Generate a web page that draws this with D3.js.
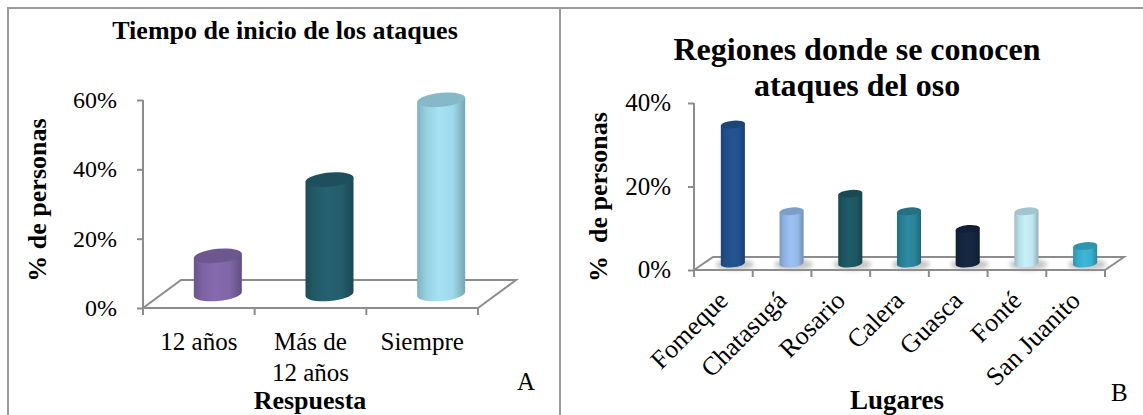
<!DOCTYPE html>
<html>
<head>
<meta charset="utf-8">
<script src="https://cdn.jsdelivr.net/npm/d3@7"></script>
<style>
  body { margin: 0; background: #fff; }
  svg { display: block; }
  text { font-family: "Liberation Serif", "Times New Roman", serif; fill: #000; }
</style>
</head>
<body>
<svg id="chart" width="1143" height="415"></svg>
<script>
// Panel A: when the attacks started
const startCategories = ["12 años", "Más de 12 años", "Siempre"];
const startLabelLines = [["12 años"], ["Más de", "12 años"], ["Siempre"]];
const startValues = [0.11, 0.33, 0.56];
const startColors = ["#8066a8", "#235d6c", "#9dd9ea"];
const startTicks = [0, 0.2, 0.4, 0.6];

// Panel B: places where bear attacks are known
const placeCategories = ["Fomeque", "Chatasugá", "Rosario", "Calera", "Guasca", "Fonté", "San Juanito"];
const placeValues = [0.333, 0.125, 0.167, 0.125, 0.083, 0.125, 0.042];
const placeColors = ["#22518d", "#95b9e9", "#1d5763", "#2b8499", "#14263f", "#bfe6ef", "#3aafcf"];
const placeTicks = [0, 0.2, 0.4];

const svg = d3.select("#chart");
const defs = svg.append("defs");

defs.append("filter").attr("id", "soft").attr("x", "-50%").attr("y", "-50%").attr("width", "200%").attr("height", "200%")
  .append("feGaussianBlur").attr("stdDeviation", 2.2);

function label(parent, x, y, str, opts = {}) {
  const t = parent.append("text")
    .attr("transform", `translate(${x},${y})` + (opts.rotate ? ` rotate(${opts.rotate})` : ""))
    .attr("font-size", opts.size || 24)
    .attr("font-weight", opts.bold ? "bold" : "normal")
    .attr("text-anchor", opts.anchor || "middle")
    .text(str);
  if (opts.space) t.attr("xml:space", "preserve").style("white-space", "pre");
  return t;
}

function cylinder(g, id, cx, yBase, yTop, rx, ry, color, skew) {
  const c = d3.color(color);
  const grad = defs.append("linearGradient").attr("id", id)
    .attr("x1", 0).attr("x2", 1).attr("y1", 0).attr("y2", 0);
  [[0, c.darker(0.55)], [0.18, c.darker(0.12)], [0.45, c.brighter(0.12)], [0.75, c], [1, c.darker(0.75)]]
    .forEach(([o, col]) => grad.append("stop").attr("offset", o).attr("stop-color", col.formatHex()));
  const h = yBase - yTop;
  const cg = g.append("g").attr("transform", `translate(${cx},${yBase}) skewY(${-skew})`);
  cg.append("path")
    .attr("d", `M${-rx},${-h} L${-rx},0 A${rx},${ry} 0 0 0 ${rx},0 L${rx},${-h} Z`)
    .attr("fill", `url(#${id})`);
  cg.append("ellipse")
    .attr("cx", 0).attr("cy", -h).attr("rx", rx).attr("ry", ry)
    .attr("fill", c.darker(0.45).formatHex());
}

function panel(cfg) {
  const g = svg.append("g");
  const y = d3.scaleLinear().domain([0, cfg.max]).range([cfg.yZero, cfg.yTop]);
  const x = d3.scaleBand().domain(cfg.categories).range([cfg.xLeft, cfg.xRight]);
  const bw = x.bandwidth();
  const axisColor = "#8c8c8c";

  // floor of the 3-D plot area
  const floor = g.append("g").attr("fill", "none").attr("stroke", axisColor).attr("stroke-width", 2);
  floor.append("path").attr("d",
    `M${cfg.xLeft},${cfg.yZero} L${cfg.xLeft + cfg.dx},${cfg.yZero - cfg.dy} L${cfg.xRight + cfg.dx},${cfg.yZero - cfg.dy} L${cfg.xRight},${cfg.yZero}`);

  // value axis
  const ya = g.append("g").attr("transform", `translate(${cfg.xLeft},0)`)
    .call(d3.axisLeft(y).tickValues(cfg.ticks).tickSize(6).tickFormat(""));
  ya.selectAll("path, line").attr("stroke", axisColor).attr("stroke-width", 2);
  ya.select(".domain").attr("d", `M0,${cfg.yTop}V${cfg.yZero}`);

  // category axis (front edge of floor)
  const xa = g.append("g").attr("transform", `translate(0,${cfg.yZero})`)
    .call(d3.axisBottom(x).tickSize(0).tickFormat(""));
  xa.select(".domain").attr("stroke", axisColor).attr("stroke-width", 2)
    .attr("d", `M${cfg.xLeft},0H${cfg.xRight}`);
  g.append("g").selectAll("line").data(d3.range(cfg.categories.length + 1)).join("line")
    .attr("x1", i => cfg.xLeft + i * bw).attr("x2", i => cfg.xLeft + i * bw)
    .attr("y1", cfg.yZero).attr("y2", cfg.yZero + 7)
    .attr("stroke", axisColor).attr("stroke-width", 2);

  // tick labels
  cfg.ticks.forEach(t => label(g, cfg.tickRight, y(t) + 8, d3.format(".0%")(t), { size: cfg.tickSize, anchor: "end" }));

  // cylinders, sitting half-way into the floor depth
  const bars = g.append("g");
  cfg.values.forEach((v, i) => {
    const cx = x(cfg.categories[i]) + bw / 2 + cfg.dx / 2;
    const yb = y(0) - cfg.dy / 2;
    const yt = y(v) - cfg.dy / 2;
    const rx = bw * cfg.barFrac / 2;
    if (cfg.shadow) {
      bars.append("ellipse").attr("cx", cx + 2).attr("cy", yb + 1).attr("rx", rx + 7).attr("ry", cfg.ry + 2)
        .attr("fill", "#9a9a9a").attr("opacity", 0.55).attr("filter", "url(#soft)");
    }
    cylinder(bars, `${cfg.id}-bar-${i}`, cx, yb, yt, rx, cfg.ry, cfg.colors[i], cfg.skew);
  });
  return { g, x, y, bw };
}

// frame lines
const frame = svg.append("g").attr("stroke", "#9a9a9a").attr("stroke-width", 2);
frame.append("line").attr("x1", 7).attr("x2", 1143).attr("y1", 8).attr("y2", 8);
frame.append("line").attr("x1", 8).attr("x2", 8).attr("y1", 8).attr("y2", 415);
frame.append("line").attr("x1", 560).attr("x2", 560).attr("y1", 8).attr("y2", 415);

// ---------- Panel A ----------
const A = panel({
  id: "a", categories: startCategories, values: startValues, colors: startColors, ticks: startTicks,
  max: 0.6, yTop: 100, yZero: 308, xLeft: 143, xRight: 478, dx: 38, dy: 28,
  tickRight: 117, tickSize: 24, barFrac: 0.43, ry: 7, skew: 5, shadow: false
});
label(A.g, 285, 39, "Tiempo de inicio de los ataques", { size: 26, bold: true });
label(A.g, 46, 200, "% de personas", { size: 26, bold: true, rotate: -90 });
startLabelLines.forEach((lines, i) => {
  const cx = A.x(startCategories[i]) + A.bw / 2;
  lines.forEach((ln, j) => label(A.g, cx, 350 + j * 31, ln, { size: 25 }));
});
label(A.g, 310, 409, "Respuesta", { size: 26, bold: true });
label(A.g, 517, 390, "A", { size: 25, anchor: "start" });

// ---------- Panel B ----------
const B = panel({
  id: "b", categories: placeCategories, values: placeValues, colors: placeColors, ticks: placeTicks,
  max: 0.4, yTop: 103, yZero: 270, xLeft: 694, xRight: 1105, dx: 19, dy: 13,
  tickRight: 671, tickSize: 25, barFrac: 0.41, ry: 3.8, skew: 5, shadow: true
});
label(B.g, 857, 60, "Regiones donde se conocen", { size: 32, bold: true });
label(B.g, 857, 96, "ataques del oso", { size: 32, bold: true });
label(B.g, 607, 197, "%  de personas", { size: 26, bold: true, rotate: -90, space: true });
placeCategories.forEach((c, i) => {
  const cx = B.x(c) + B.bw / 2;
  label(B.g, cx + 6, 302, c, { size: 26, anchor: "end", rotate: -45 });
});
label(B.g, 897, 409, "Lugares", { size: 27, bold: true });
label(B.g, 1111, 401, "B", { size: 25, anchor: "start" });
</script>
</body>
</html>
